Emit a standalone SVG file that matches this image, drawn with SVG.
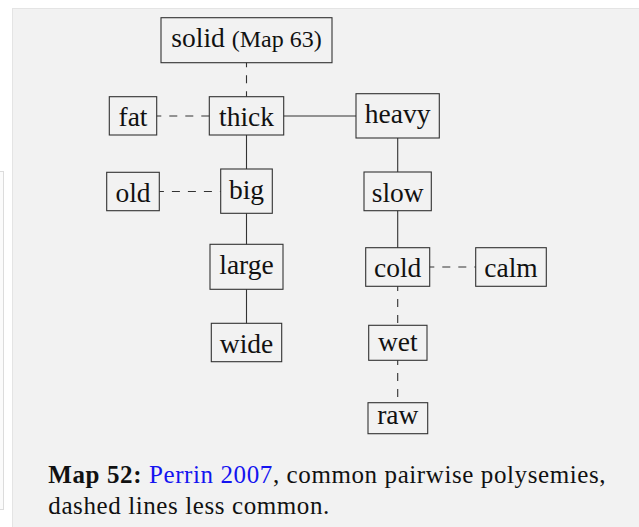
<svg xmlns="http://www.w3.org/2000/svg" width="639" height="527" viewBox="0 0 639 527">
<style>
.node rect{fill:none;stroke:#333;stroke-width:1.1}
.node text{font-family:"Liberation Serif","Times New Roman",serif;font-size:27.5px;fill:#111;text-anchor:middle}
.small{font-size:24px}
.edges line{stroke:#333;stroke-width:1.1}
.edges line.d{stroke-dasharray:8 8;stroke-dashoffset:3.4}
.cap{font-family:"Liberation Serif","Times New Roman",serif;font-size:25px;fill:#111;letter-spacing:0.6px}
</style>
<rect x="0" y="0" width="639" height="527" fill="#ffffff"/>
<rect x="-10" y="171.5" width="13.5" height="338" fill="#fbfbfb" stroke="#dcdcdc" stroke-width="1"/>
<rect x="12.5" y="8.5" width="640" height="530" fill="#f2f2f2" stroke="#e4e4e4" stroke-width="1"/>
<g class="edges">
<line class="d" x1="246.5" y1="62.7" x2="246.5" y2="96.7"/>
<line class="d" x1="156.7" y1="116" x2="209.3" y2="116"/>
<line x1="283.7" y1="116" x2="356" y2="116"/>
<line x1="246.5" y1="135" x2="246.5" y2="169"/>
<line class="d" x1="159.3" y1="191.5" x2="220.7" y2="191.5"/>
<line x1="246.5" y1="213.3" x2="246.5" y2="244.3"/>
<line x1="246.5" y1="289.3" x2="246.5" y2="323.3"/>
<line x1="397.7" y1="138" x2="397.7" y2="172"/>
<line x1="397.7" y1="210.7" x2="397.7" y2="247.7"/>
<line class="d" x1="429.7" y1="267" x2="475.7" y2="267"/>
<line class="d" x1="397.7" y1="286.3" x2="397.7" y2="325.3"/>
<line class="d" x1="397.7" y1="360.3" x2="397.7" y2="402.7"/>
</g>
<g id="solid" class="node"><rect x="161" y="17.7" width="171" height="45"/><text x="246.5" y="47.3">solid <tspan class="small">(Map 63)</tspan></text></g>
<g id="fat" class="node"><rect x="109.3" y="96.7" width="47.4" height="38.3"/><text x="133" y="126">fat</text></g>
<g id="thick" class="node"><rect x="209.3" y="96.7" width="74.4" height="38.3"/><text x="246.5" y="126">thick</text></g>
<g id="heavy" class="node"><rect x="356" y="93.7" width="83.3" height="44.3"/><text x="397.7" y="122.7">heavy</text></g>
<g id="old" class="node"><rect x="106.7" y="172.3" width="52.6" height="38.4"/><text x="133" y="201.5">old</text></g>
<g id="big" class="node"><rect x="220.7" y="169" width="51.6" height="44.3"/><text x="246.5" y="198.5">big</text></g>
<g id="slow" class="node"><rect x="364" y="172" width="67.3" height="38.7"/><text x="397.7" y="201.5">slow</text></g>
<g id="large" class="node"><rect x="210" y="244.3" width="73" height="45"/><text x="246.5" y="274">large</text></g>
<g id="wide" class="node"><rect x="211.3" y="323.3" width="70.4" height="38.4"/><text x="246.5" y="352.7">wide</text></g>
<g id="cold" class="node"><rect x="365.7" y="247.7" width="64" height="38.6"/><text x="397.7" y="277">cold</text></g>
<g id="calm" class="node"><rect x="475.7" y="247.7" width="70.6" height="38.6"/><text x="511" y="277">calm</text></g>
<g id="wet" class="node"><rect x="368.7" y="325.3" width="58.3" height="35"/><text x="397.8" y="351">wet</text></g>
<g id="raw" class="node"><rect x="368" y="402.7" width="59.7" height="31"/><text x="397.8" y="424">raw</text></g>
<text class="cap" x="48.3" y="482.7"><tspan font-weight="bold">Map 52:</tspan> <tspan fill="#1414f0">Perrin 2007</tspan>, common pairwise polysemies,</text>
<text class="cap" x="48.3" y="514">dashed lines less common.</text>
</svg>
